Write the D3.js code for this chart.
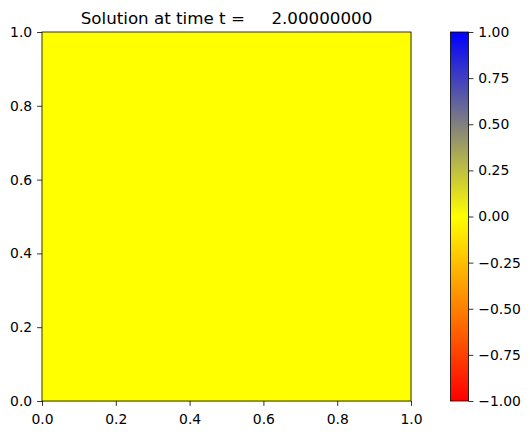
<!DOCTYPE html>
<html><head><meta charset="utf-8">
<script src="https://cdn.jsdelivr.net/npm/d3@7"></script>
<style>body{margin:0;background:#fff}text{font-family:"DejaVu Sans",sans-serif}</style>
</head><body><svg id="c" width="530" height="435"></svg>
<script>
const title = "Solution at time t =     2.00000000";
const xEdges = [0,0.1,0.2,0.3,0.4,0.5,0.6,0.7,0.8,0.9,1.0];
const yEdges = [0,0.1,0.2,0.3,0.4,0.5,0.6,0.7,0.8,0.9,1.0];
const values = [
 [0,0,0,0,0,0,0,0,0,0],[0,0,0,0,0,0,0,0,0,0],[0,0,0,0,0,0,0,0,0,0],[0,0,0,0,0,0,0,0,0,0],[0,0,0,0,0,0,0,0,0,0],
 [0,0,0,0,0,0,0,0,0,0],[0,0,0,0,0,0,0,0,0,0],[0,0,0,0,0,0,0,0,0,0],[0,0,0,0,0,0,0,0,0,0],[0,0,0,0,0,0,0,0,0,0]];
const xTicks = [0,0.2,0.4,0.6,0.8,1.0];
const yTicks = [0,0.2,0.4,0.6,0.8,1.0];
const cbTicks = [-1,-0.75,-0.5,-0.25,0,0.25,0.5,0.75,1];
const cmapStops = [-1,0,1];
const cmapColors = ["#ff0000","#ffff00","#0000ff"];

const svg = d3.select("#c");
const L=42,R=411,T=32,B=401;
const x = d3.scaleLinear().domain([0,1]).range([L,R]);
const y = d3.scaleLinear().domain([0,1]).range([B,T]);
const color = d3.scaleLinear().domain(cmapStops).range(cmapColors).interpolate(d3.interpolateRgb);

const cells=[];
values.forEach((row,j)=>row.forEach((v,i)=>cells.push({i,j,v})));
svg.append("g").selectAll("rect").data(cells).join("rect")
 .attr("x",d=>x(xEdges[d.i])).attr("y",d=>y(yEdges[d.j+1]))
 .attr("width",d=>x(xEdges[d.i+1])-x(xEdges[d.i])+0.5)
 .attr("height",d=>y(yEdges[d.j])-y(yEdges[d.j+1])+0.5)
 .attr("fill",d=>color(d.v)).attr("shape-rendering","crispEdges");

const fmt1 = d3.format(".1f");
const xa = svg.append("g").attr("transform",`translate(0,${B})`)
 .call(d3.axisBottom(x).tickValues(xTicks).tickFormat(fmt1).tickSize(4.9).tickPadding(8.6));
const ya = svg.append("g").attr("transform",`translate(${L},0)`)
 .call(d3.axisLeft(y).tickValues(yTicks).tickFormat(fmt1).tickSize(4.9).tickPadding(4.9));
[xa,ya].forEach(a=>{a.select(".domain").remove();a.selectAll("text").attr("font-size","13.9px").attr("font-family","DejaVu Sans").attr("fill","#000");a.selectAll("line").attr("stroke","#000").attr("stroke-width",0.8);});
svg.append("rect").attr("x",L).attr("y",T).attr("width",R-L).attr("height",B-T)
 .attr("fill","none").attr("stroke","#000").attr("stroke-width",0.8);

svg.append("text").attr("x",(L+R)/2).attr("y",24).attr("text-anchor","middle")
 .attr("font-size","16.7px").style("white-space","pre").text(title);

// colorbar
const cL=450.5,cR=468.5;
const cy = d3.scaleLinear().domain([-1,1]).range([B,T]);
const defs=svg.append("defs");
const grad=defs.append("linearGradient").attr("id","cb").attr("x1","0").attr("y1","1").attr("x2","0").attr("y2","0");
d3.range(0,1.0001,0.05).forEach(t=>grad.append("stop").attr("offset",t).attr("stop-color",color(-1+2*t)));
svg.append("rect").attr("x",cL).attr("y",T).attr("width",cR-cL).attr("height",B-T).attr("fill","url(#cb)");
const ca = svg.append("g").attr("transform",`translate(${cR},0)`)
 .call(d3.axisRight(cy).tickValues(cbTicks).tickFormat(d=>d3.format(".2f")(d).replace("-","\u2212")).tickSize(4.9).tickPadding(4.9));
ca.select(".domain").remove();
ca.selectAll("text").attr("font-size","13.9px").attr("font-family","DejaVu Sans").attr("fill","#000");
ca.selectAll("line").attr("stroke","#000").attr("stroke-width",0.8);
svg.append("rect").attr("x",cL).attr("y",T).attr("width",cR-cL).attr("height",B-T)
 .attr("fill","none").attr("stroke","#000").attr("stroke-width",0.8);
</script></body></html>
